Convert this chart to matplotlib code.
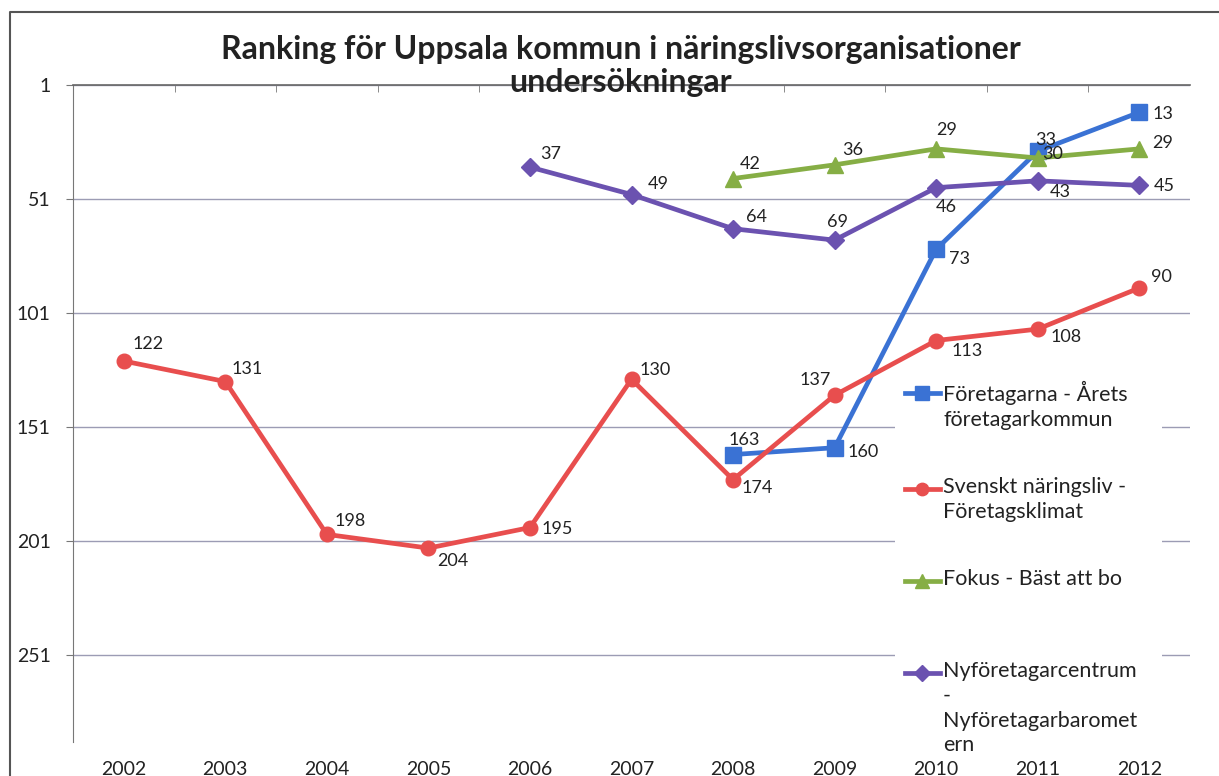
import numpy as np
import matplotlib
matplotlib.use("Agg")
import matplotlib.pyplot as plt
from matplotlib.lines import Line2D
from matplotlib.patches import Rectangle

plt.rcParams['font.family'] = ['Lato', 'DejaVu Sans']

# data
years = ['2002', '2003', '2004', '2005', '2006', '2007',
         '2008', '2009', '2010', '2011', '2012']
foretagarna = [None, None, None, None, None, None, 163, 160, 73, 30, 13]
svenskt = [122, 131, 198, 204, 195, 130, 174, 137, 113, 108, 90]
fokus = [None, None, None, None, None, None, 42, 36, 29, 33, 29]
nyforetagar = [None, None, None, None, 37, 49, 64, 69, 46, 43, 45]

labels = ['Företagarna - Årets\nföretagarkommun',
          'Svenskt näringsliv -\nFöretagsklimat',
          'Fokus - Bäst att bo',
          'Nyföretagarcentrum\n-\nNyföretagarbaromet\nern']
colors = ['#3A72D4', '#E84E4E', '#86AE45', '#6B52B0']
markers = ['s', 'o', '^', 'D']
msizes = [12, 10.5, 12, 9]

# data label offsets in pixels (dx right, dy up)
offsets = [
    [None] * 6 + [(-5, 15), (13, -4), (13, -10), (5, -3), (13, -2)],
    [(9, 17), (6, 13), (8, 13), (9, -13), (12, -1), (8, 9), (8, -8),
     (-35, 15), (15, -10), (13, -8), (12, 11)],
    [None] * 6 + [(7, 15), (8, 15), (0, 19), (-2, 18), (13, 6)],
    [None] * 4 + [(10, 13), (16, 11), (13, 12), (-8, 18), (0, -19),
                  (12, -11), (15, -1)],
]

W, H = 1219, 776
fig = plt.figure(figsize=(W / 100, H / 100), dpi=100)
rect = [73 / W, 1 - 742 / H, (1190 - 73) / W, (742 - 85) / H]
ax = fig.add_axes(rect)

x = np.arange(len(years))
series = [foretagarna, svenskt, fokus, nyforetagar]
for vals, c, m, ms, offs in zip(series, colors, markers, msizes, offsets):
    xs = [xi for xi, v in zip(x, vals) if v is not None]
    ys = [v for v in vals if v is not None]
    ax.plot(xs, ys, color=c, lw=3.4, marker=m, ms=ms, zorder=3)
    for xi, v, off in zip(x, vals, offs):
        if v is None:
            continue
        ax.annotate(str(v), (xi, v), xytext=(off[0] * 0.72, off[1] * 0.72),
                    textcoords='offset points', ha='left', va='center',
                    fontsize=13, color='#222222', zorder=5)

ax.set_xlim(-0.5, 10.5)
ax.set_ylim(289, 1)
ax.set_yticks([1, 51, 101, 151, 201, 251])
ax.set_xticks(x)
ax.set_xticks(np.arange(0.5, 10, 1), minor=True)
ax.tick_params(axis='x', which='major', length=0, labelbottom=False)
ax.tick_params(axis='x', which='minor', top=True, bottom=False,
               direction='in', length=5, color='#777777')
ax.tick_params(axis='y', which='major', length=5, pad=11, labelsize=14,
               colors='#222222')
ax.tick_params(axis='y', color='#777777')
ax.set_axisbelow(True)
ax.yaxis.grid(True, color='#9C9CB4', lw=1)
ax.spines['bottom'].set_visible(False)
ax.spines['right'].set_visible(False)
ax.spines['left'].set_color('#777777')
ax.spines['top'].set_color('#666666')
ax.spines['top'].set_linewidth(1.2)

# year labels sit on top of the legend box, so they go on an overlay axes
ax_lbl = fig.add_axes(rect, frameon=False, zorder=ax.get_zorder() + 1)
ax_lbl.patch.set_visible(False)
ax_lbl.set_xlim(ax.get_xlim())
ax_lbl.set_xticks(x)
ax_lbl.set_xticklabels(years)
ax_lbl.tick_params(axis='x', length=0, pad=14, labelsize=14, colors='#222222')
ax_lbl.set_yticks([])

# legend box covering the grid, entries laid out like the original
ax.add_patch(Rectangle((895 / W, 0), (1162 - 895) / W, 1 - 370 / H,
                       transform=fig.transFigure, facecolor='white',
                       edgecolor='none', zorder=1, clip_on=False))
entry_y = [393, 489, 581, 673]
for lab, c, m, ms, ey in zip(labels, colors, markers, msizes, entry_y):
    yf = 1 - ey / H
    fig.add_artist(Line2D([905 / W, 922 / W, 940 / W], [yf, yf, yf],
                          transform=fig.transFigure, color=c, lw=3.4,
                          marker=m, ms=ms * 0.85, markevery=[1]))
    fig.text(943 / W, yf + 12 / H, lab, ha='left', va='top', fontsize=15.5,
             color='#222222', linespacing=1.3)

fig.text(621 / W, 1 - 66 / H,
         'Ranking för Uppsala kommun i näringslivsorganisationer\nundersökningar',
         ha='center', va='center', fontsize=23, fontweight='bold',
         color='#222222', linespacing=1.15)

# outer chart border
fig.add_artist(Line2D([10 / W, 10 / W, 1], [0, 1 - 12 / H, 1 - 12 / H],
                      transform=fig.transFigure, color='#555555', lw=1.5))

fig.savefig('out.png', dpi=100)
